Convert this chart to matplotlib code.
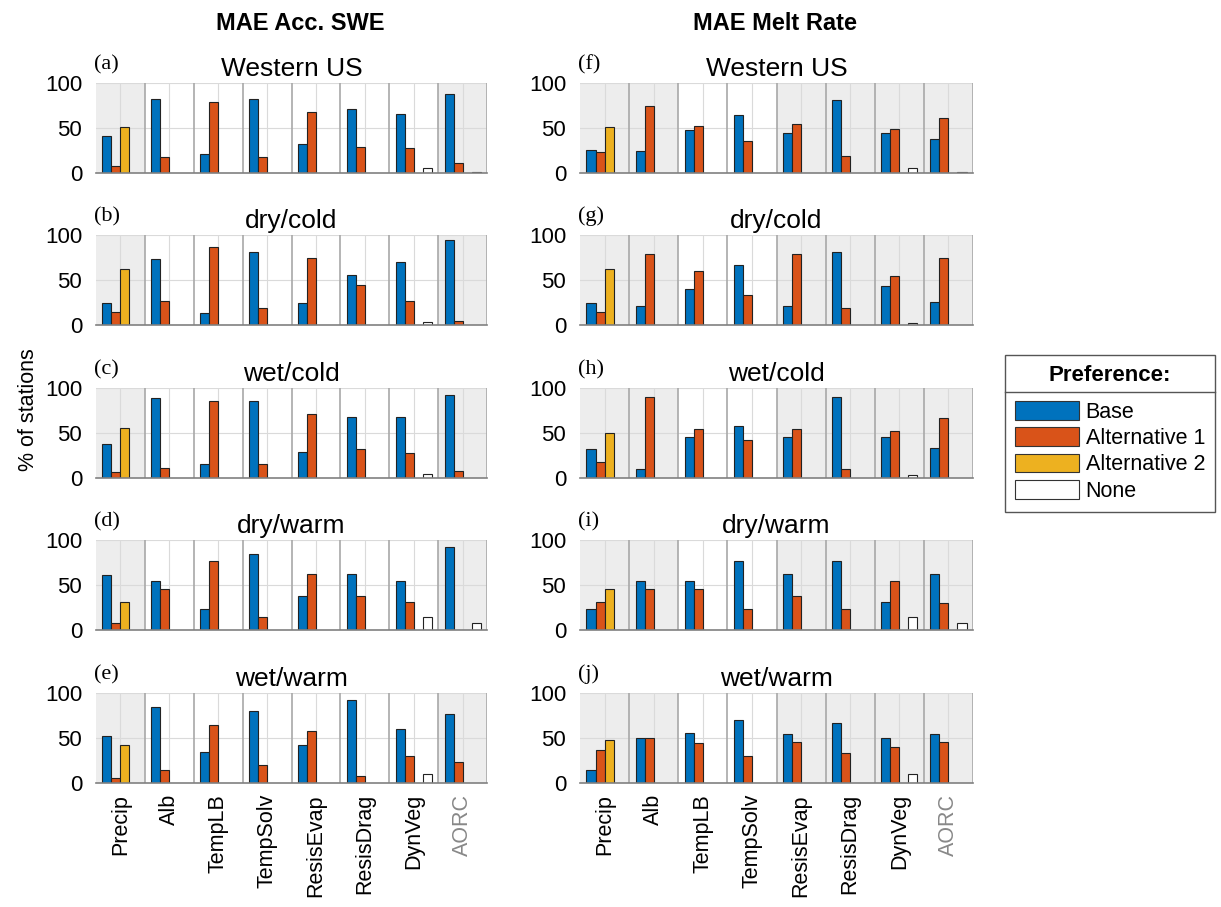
import matplotlib.pyplot as plt
import numpy as np
from matplotlib.patches import Patch
from matplotlib.lines import Line2D

regions = ['Western US', 'dry/cold', 'wet/cold', 'dry/warm', 'wet/warm']
schemes = ['Precip', 'Alb', 'TempLB', 'TempSolv', 'ResisEvap', 'ResisDrag', 'DynVeg', 'AORC']
series_names = ['Base', 'Alternative 1', 'Alternative 2', 'None']

# % of stations preferring each option, one row per region
swe_base = [[41, 82, 21, 82, 32, 71, 66, 88],
            [24, 73, 13, 81, 25, 56, 70, 95],
            [38, 89, 15, 85, 29, 68, 68, 92],
            [61, 54, 23, 85, 38, 62, 54, 92],
            [52, 85, 35, 80, 42, 92, 60, 77]]
swe_alt1 = [[8, 18, 79, 18, 68, 29, 28, 11],
            [14, 27, 87, 19, 75, 44, 27, 5],
            [7, 11, 85, 15, 71, 32, 28, 8],
            [8, 46, 77, 15, 62, 38, 31, 0],
            [6, 15, 65, 20, 58, 8, 30, 23]]
swe_alt2 = [[51, 0, 0, 0, 0, 0, 0, 0],
            [62, 0, 0, 0, 0, 0, 0, 0],
            [55, 0, 0, 0, 0, 0, 0, 0],
            [31, 0, 0, 0, 0, 0, 0, 0],
            [42, 0, 0, 0, 0, 0, 0, 0]]
swe_none = [[0, 0, 0, 0, 0, 0, 6, 1],
            [0, 0, 0, 0, 0, 0, 3, 0],
            [0, 0, 0, 0, 0, 0, 4, 0],
            [0, 0, 0, 0, 0, 0, 15, 8],
            [0, 0, 0, 0, 0, 0, 10, 0]]

melt_base = [[26, 25, 48, 64, 45, 81, 45, 38],
             [24, 21, 40, 67, 21, 81, 43, 26],
             [32, 10, 46, 58, 46, 90, 45, 33],
             [23, 54, 54, 77, 62, 77, 31, 62],
             [15, 50, 56, 70, 54, 67, 50, 54]]
melt_alt1 = [[23, 75, 52, 36, 55, 19, 49, 61],
             [14, 79, 60, 33, 79, 19, 55, 74],
             [18, 90, 54, 42, 54, 10, 52, 67],
             [31, 46, 46, 23, 38, 23, 54, 30],
             [37, 50, 44, 30, 46, 33, 40, 46]]
melt_alt2 = [[51, 0, 0, 0, 0, 0, 0, 0],
             [62, 0, 0, 0, 0, 0, 0, 0],
             [50, 0, 0, 0, 0, 0, 0, 0],
             [46, 0, 0, 0, 0, 0, 0, 0],
             [48, 0, 0, 0, 0, 0, 0, 0]]
melt_none = [[0, 0, 0, 0, 0, 0, 6, 1],
             [0, 0, 0, 0, 0, 0, 2, 0],
             [0, 0, 0, 0, 0, 0, 3, 0],
             [0, 0, 0, 0, 0, 0, 15, 8],
             [0, 0, 0, 0, 0, 0, 10, 0]]

colors = ['#0072BD', '#D95319', '#EDB120', 'white']
swe_shaded = [0, 7]
melt_shaded = [0, 1, 4, 5, 6, 7]
letters = 'abcdefghij'

plt.rcParams['font.family'] = ['Liberation Sans', 'DejaVu Sans']

fig = plt.figure(figsize=(12.21, 9.07), dpi=100)

col_x = [96 / 1221, 580 / 1221]
col_w = [391 / 1221, 393 / 1221]
row_top = [83, 235, 388, 540, 693]
ax_h = 90

x = np.arange(1, len(schemes) + 1)
bw = 0.184
offsets = np.array([-1.5, -0.5, 0.5, 1.5]) * bw

columns = [(swe_base, swe_alt1, swe_alt2, swe_none, swe_shaded),
           (melt_base, melt_alt1, melt_alt2, melt_none, melt_shaded)]

for c, (base, alt1, alt2, none, shaded) in enumerate(columns):
    for r, region in enumerate(regions):
        bottom = 1 - (row_top[r] + ax_h) / 907
        ax = fig.add_axes([col_x[c], bottom, col_w[c], ax_h / 907])
        for g in shaded:
            ax.axvspan(g + 0.5, g + 1.5, color='#EDEDED', lw=0, zorder=0)
        for xv in x:
            ax.axvline(xv, color='#DADADA', lw=0.8, zorder=0.5)
        for yv in (50, 100):
            ax.axhline(yv, color='#DADADA', lw=0.8, zorder=0.5)
        for xv in np.arange(1.5, 9, 1.0):
            ax.axvline(xv, color='#A8A8A8', lw=1.2, zorder=1)
        vals = [base[r], alt1[r], alt2[r], none[r]]
        for k in range(4):
            v = np.array(vals[k], dtype=float)
            keep = v > 0
            ax.bar(x[keep] + offsets[k], v[keep], width=bw, color=colors[k],
                   edgecolor='#222222', linewidth=0.8, zorder=2)
        ax.set_xlim(0.5, 8.5)
        ax.set_ylim(0, 100)
        ax.set_yticks([0, 50, 100])
        ax.tick_params(axis='y', length=0, labelsize=16, pad=10)
        ax.tick_params(axis='x', length=0)
        for s in ('top', 'right', 'left'):
            ax.spines[s].set_visible(False)
        ax.spines['bottom'].set_color('#808080')
        ax.spines['bottom'].set_linewidth(1.2)
        ax.set_title(region, fontsize=19, pad=5)
        ax.text(-0.005, 1.1, '(%s)' % letters[c * 5 + r], transform=ax.transAxes,
                fontsize=16, family='Liberation Serif', va='bottom', ha='left')
        if r == len(regions) - 1:
            ax.set_xticks(x)
            ax.set_xticklabels(schemes, rotation=90, fontsize=15.5)
            ax.tick_params(axis='x', pad=8)
            ax.get_xticklabels()[-1].set_color('#888888')
        else:
            ax.set_xticks([])

fig.text(300 / 1221, 1 - 24 / 907, 'MAE Acc. SWE', fontsize=17, weight='bold',
         ha='center', va='center')
fig.text(775 / 1221, 1 - 24 / 907, 'MAE Melt Rate', fontsize=17, weight='bold',
         ha='center', va='center')
fig.text(28 / 1221, 1 - 410 / 907, '% of stations', fontsize=15.5, rotation=90,
         ha='center', va='center')

handles = [Patch(facecolor=colors[k], edgecolor='#333333', linewidth=0.8)
           for k in range(4)]
leg = fig.legend(handles, series_names, title='Preference:',
                 loc='upper left', bbox_to_anchor=(1005 / 1221, 1 - 355 / 907, 210 / 1221, 0),
                 mode='expand', borderaxespad=0, fontsize=15.5,
                 title_fontproperties={'weight': 'bold', 'size': 16},
                 handlelength=3.0, handleheight=0.95, handletextpad=0.3,
                 labelspacing=0.22, borderpad=0.45, fancybox=False,
                 edgecolor='#555555', framealpha=1)
leg.get_frame().set_linewidth(1.0)
# wider gap between the title and the entries, so a rule fits in between
leg._legend_box.sep = 11

fig.canvas.draw()
renderer = fig.canvas.get_renderer()
fb = leg.get_frame().get_window_extent(renderer)
tb = leg.get_title().get_window_extent(renderer)
hb = leg.get_patches()[0].get_window_extent(renderer)
ysep = (0.5 * (tb.y0 + hb.y1) + 1) / fig.bbox.height
fig.add_artist(Line2D([fb.x0 / fig.bbox.width, fb.x1 / fig.bbox.width], [ysep, ysep],
                      color='#555555', lw=1.0, transform=fig.transFigure, zorder=10))

fig.savefig('out.png', dpi=100)
